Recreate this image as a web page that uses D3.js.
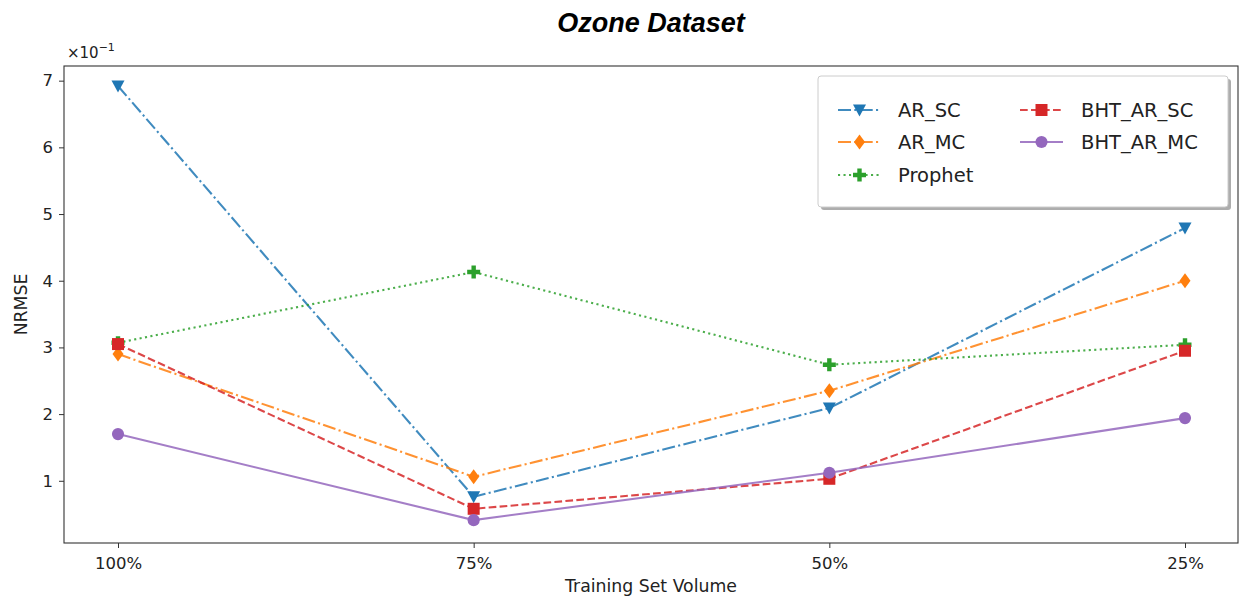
<!DOCTYPE html>
<html>
<head>
<meta charset="utf-8">
<script src="https://cdn.jsdelivr.net/npm/d3@7"></script>
<style>
  body { margin: 0; background: #fff; }
  svg { display: block; }
</style>
</head>
<body>
<svg id="chart" width="1241" height="603"></svg>
<script>
// Training set volume categories and NRMSE (in units of 1e-1) per model
const categories = ["100%", "75%", "50%", "25%"];
const arSC     = [6.92, 0.76, 2.09, 4.79];
const arMC     = [2.90, 1.06, 2.35, 4.00];
const prophet  = [3.07, 4.13, 2.74, 3.04];
const bhtArSC  = [3.05, 0.58, 1.03, 2.95];
const bhtArMC  = [1.70, 0.41, 1.12, 1.94];
const yTicks   = [1, 2, 3, 4, 5, 6, 7];

const series = [
  { name: "AR_SC",      values: arSC,    color: "#1f77b4", dash: "13,3.3,2.1,3.3", marker: "tri" },
  { name: "AR_MC",      values: arMC,    color: "#ff7f0e", dash: "13,3.3,2.1,3.3", marker: "diamond" },
  { name: "Prophet",    values: prophet, color: "#2ca02c", dash: "2.1,3.4",        marker: "plus" },
  { name: "BHT_AR_SC",  values: bhtArSC, color: "#d62728", dash: "7.7,3.3",        marker: "square" },
  { name: "BHT_AR_MC",  values: bhtArMC, color: "#9467bd", dash: null,             marker: "circle" }
];

const svg = d3.select("#chart");
const plotL = 64, plotR = 1238, plotT = 66, plotB = 543;

const x = d3.scalePoint().domain(categories).range([118, 1185]);
const y = d3.scaleLinear().domain([0.067, 7.22]).range([plotB, plotT]);

const font = "'DejaVu Sans', sans-serif";

// Marker shapes
function markerPath(type) {
  switch (type) {
    case "tri":     return "M-6.5,-5.5L6.5,-5.5L0,6.5Z";
    case "diamond": return "M0,-7.5L5.5,0L0,7.5L-5.5,0Z";
    case "square":  return "M-6,-6H6V6H-6Z";
    case "circle":  return d3.symbol(d3.symbolCircle, 115)();
    case "plus":    return "M-2.2,-6.5H2.2V-2.2H6.5V2.2H2.2V6.5H-2.2V2.2H-6.5V-2.2H-2.2Z";
  }
}

// Axes frame
svg.append("rect")
  .attr("x", plotL).attr("y", plotT)
  .attr("width", plotR - plotL).attr("height", plotB - plotT)
  .attr("fill", "none").attr("stroke", "#333").attr("stroke-width", 1.1);

// Y axis
const yAxis = svg.append("g").attr("transform", `translate(${plotL},0)`)
  .call(d3.axisLeft(y).tickValues(yTicks).tickFormat(d3.format("d")).tickSize(5).tickPadding(6));
yAxis.select(".domain").remove();
yAxis.selectAll("line").attr("stroke", "#333");
yAxis.selectAll("text").attr("font-family", font).attr("font-size", 16.5).attr("fill", "#222");

// X axis
const xAxis = svg.append("g").attr("transform", `translate(0,${plotB})`)
  .call(d3.axisBottom(x).tickSize(5).tickPadding(9));
xAxis.select(".domain").remove();
xAxis.selectAll("line").attr("stroke", "#333");
xAxis.selectAll("text").attr("font-family", font).attr("font-size", 16.5).attr("fill", "#222");

// Offset multiplier
const off = svg.append("text").attr("x", 67).attr("y", 58)
  .attr("font-family", font).attr("font-size", 15).attr("fill", "#222");
off.append("tspan").text("\u00d710");
off.append("tspan").attr("dy", -7).attr("font-size", 11).text("\u22121");

// Axis labels and title
svg.append("text").attr("x", (plotL + plotR) / 2).attr("y", 592)
  .attr("text-anchor", "middle").attr("font-family", font).attr("font-size", 17.3).attr("fill", "#222")
  .text("Training Set Volume");
svg.append("text").attr("transform", `translate(27,${(plotT + plotB) / 2}) rotate(-90)`)
  .attr("text-anchor", "middle").attr("font-family", font).attr("font-size", 17.3).attr("fill", "#222")
  .text("NRMSE");
svg.append("text").attr("x", (plotL + plotR) / 2).attr("y", 32)
  .attr("text-anchor", "middle").attr("font-family", "'Liberation Sans', Arial, sans-serif")
  .attr("font-size", 27).attr("font-weight", "bold").attr("font-style", "italic").attr("fill", "#000")
  .text("Ozone Dataset");

// Lines and markers
const line = d3.line().x((d, i) => x(categories[i])).y(d => y(d));
series.forEach(s => {
  const g = svg.append("g");
  g.append("path").datum(s.values)
    .attr("d", line).attr("fill", "none")
    .attr("stroke", s.color).attr("stroke-width", 2.1).attr("stroke-opacity", 0.85)
    .attr("stroke-dasharray", s.dash);
  g.selectAll("path.m").data(s.values).enter().append("path").attr("class", "m")
    .attr("transform", (d, i) => `translate(${x(categories[i])},${y(d)})`)
    .attr("d", markerPath(s.marker)).attr("fill", s.color);
});

// Legend
const lg = svg.append("g");
lg.append("rect").attr("x", 821).attr("y", 79).attr("width", 410).attr("height", 131)
  .attr("rx", 3).attr("fill", "#777").attr("opacity", 0.6);
lg.append("rect").attr("x", 818).attr("y", 76).attr("width", 410).attr("height", 131)
  .attr("rx", 3).attr("fill", "#fff").attr("stroke", "#ccc").attr("stroke-width", 1);

const cols = [
  { hx: 838, tx: 898 },
  { hx: 1020, tx: 1081 }
];
const rowsY = [110, 142, 175];
series.forEach((s, i) => {
  const col = cols[i < 3 ? 0 : 1];
  const ry = rowsY[i < 3 ? i : i - 3];
  lg.append("line").attr("x1", col.hx).attr("x2", col.hx + 43)
    .attr("y1", ry).attr("y2", ry)
    .attr("stroke", s.color).attr("stroke-width", 2.1).attr("stroke-opacity", 0.85)
    .attr("stroke-dasharray", s.dash);
  lg.append("path").attr("transform", `translate(${col.hx + 21.5},${ry})`)
    .attr("d", markerPath(s.marker)).attr("fill", s.color);
  lg.append("text").attr("x", col.tx).attr("y", ry).attr("dy", "0.36em")
    .attr("font-family", font).attr("font-size", 19.5).attr("fill", "#222").text(s.name);
});
</script>
</body>
</html>
